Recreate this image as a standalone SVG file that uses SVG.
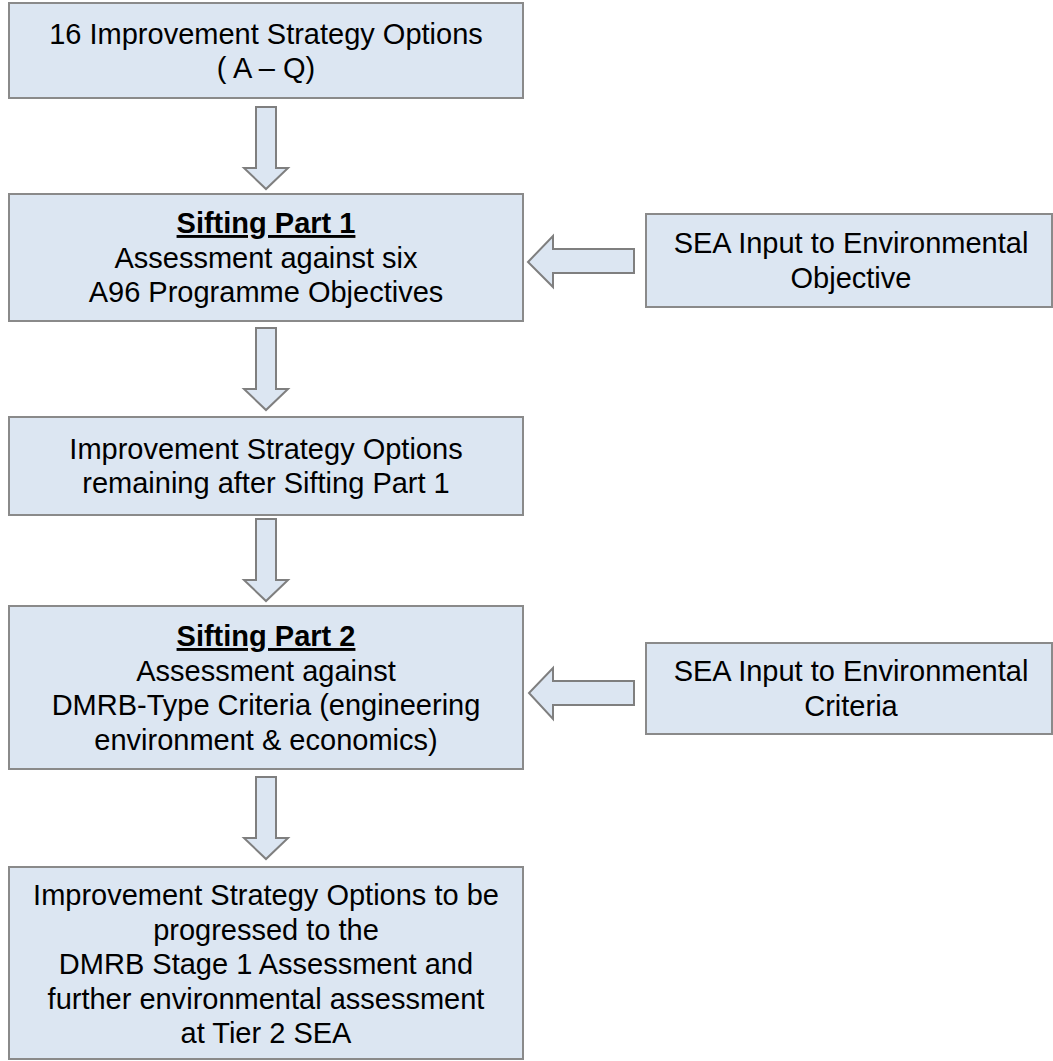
<svg xmlns="http://www.w3.org/2000/svg" width="1053" height="1061" viewBox="0 0 1053 1061">
<style>
.box{fill:#dce6f2;stroke:#8a8a8a;stroke-width:2}
.arr{fill:#dce6f2;stroke:#7f7f7f;stroke-width:2;stroke-linejoin:miter}
text{font-family:"Liberation Sans",Arial,sans-serif;font-size:29px;fill:#000;text-anchor:middle}
.h{font-weight:bold;text-decoration:underline}
</style>
<rect width="1053" height="1061" fill="#ffffff"/>
<g id="connectors">
<path class="arr" d="M256,107 H276 V168 H288 L266,189 L244,168 H256 Z"/>
<path class="arr" d="M256,328 H276 V389 H288 L266,410 L244,389 H256 Z"/>
<path class="arr" d="M256,519 H276 V580 H288 L266,601 L244,580 H256 Z"/>
<path class="arr" d="M256,777 H276 V838 H288 L266,859 L244,838 H256 Z"/>
<path class="arr" d="M634,249 V273 H553 V287 L528,262 L553,236 V249 Z"/>
<path class="arr" d="M634,681 V705 H553 V719 L529,693 L553,668 V681 Z"/>
</g>
<g id="n1">
<rect class="box" x="9" y="3" width="514" height="95"/>
<text x="266" y="44">16 Improvement Strategy Options</text>
<text x="266" y="78">( A – Q)</text>
</g>
<g id="n2">
<rect class="box" x="9" y="194" width="514" height="127"/>
<text class="h" x="266" y="233">Sifting Part 1</text>
<text x="266" y="267.5">Assessment against six</text>
<text x="266" y="302">A96 Programme Objectives</text>
</g>
<g id="n3">
<rect class="box" x="646" y="214" width="406" height="93"/>
<text x="851" y="253">SEA Input to Environmental</text>
<text x="851" y="287.5">Objective</text>
</g>
<g id="n4">
<rect class="box" x="9" y="417" width="514" height="98"/>
<text x="266" y="458.5">Improvement Strategy Options</text>
<text x="266" y="493">remaining after Sifting Part 1</text>
</g>
<g id="n5">
<rect class="box" x="9" y="606" width="514" height="163"/>
<text class="h" x="266" y="646">Sifting Part 2</text>
<text x="266" y="680.5">Assessment against</text>
<text x="266" y="715">DMRB-Type Criteria (engineering</text>
<text x="266" y="749.5">environment &amp; economics)</text>
</g>
<g id="n6">
<rect class="box" x="646" y="643" width="406" height="91"/>
<text x="851" y="681">SEA Input to Environmental</text>
<text x="851" y="715.5">Criteria</text>
</g>
<g id="n7">
<rect class="box" x="9" y="867" width="514" height="192"/>
<text x="266" y="905">Improvement Strategy Options to be</text>
<text x="266" y="939.5">progressed to the</text>
<text x="266" y="974">DMRB Stage 1 Assessment and</text>
<text x="266" y="1008.5">further environmental assessment</text>
<text x="266" y="1043">at Tier 2 SEA</text>
</g>
</svg>
